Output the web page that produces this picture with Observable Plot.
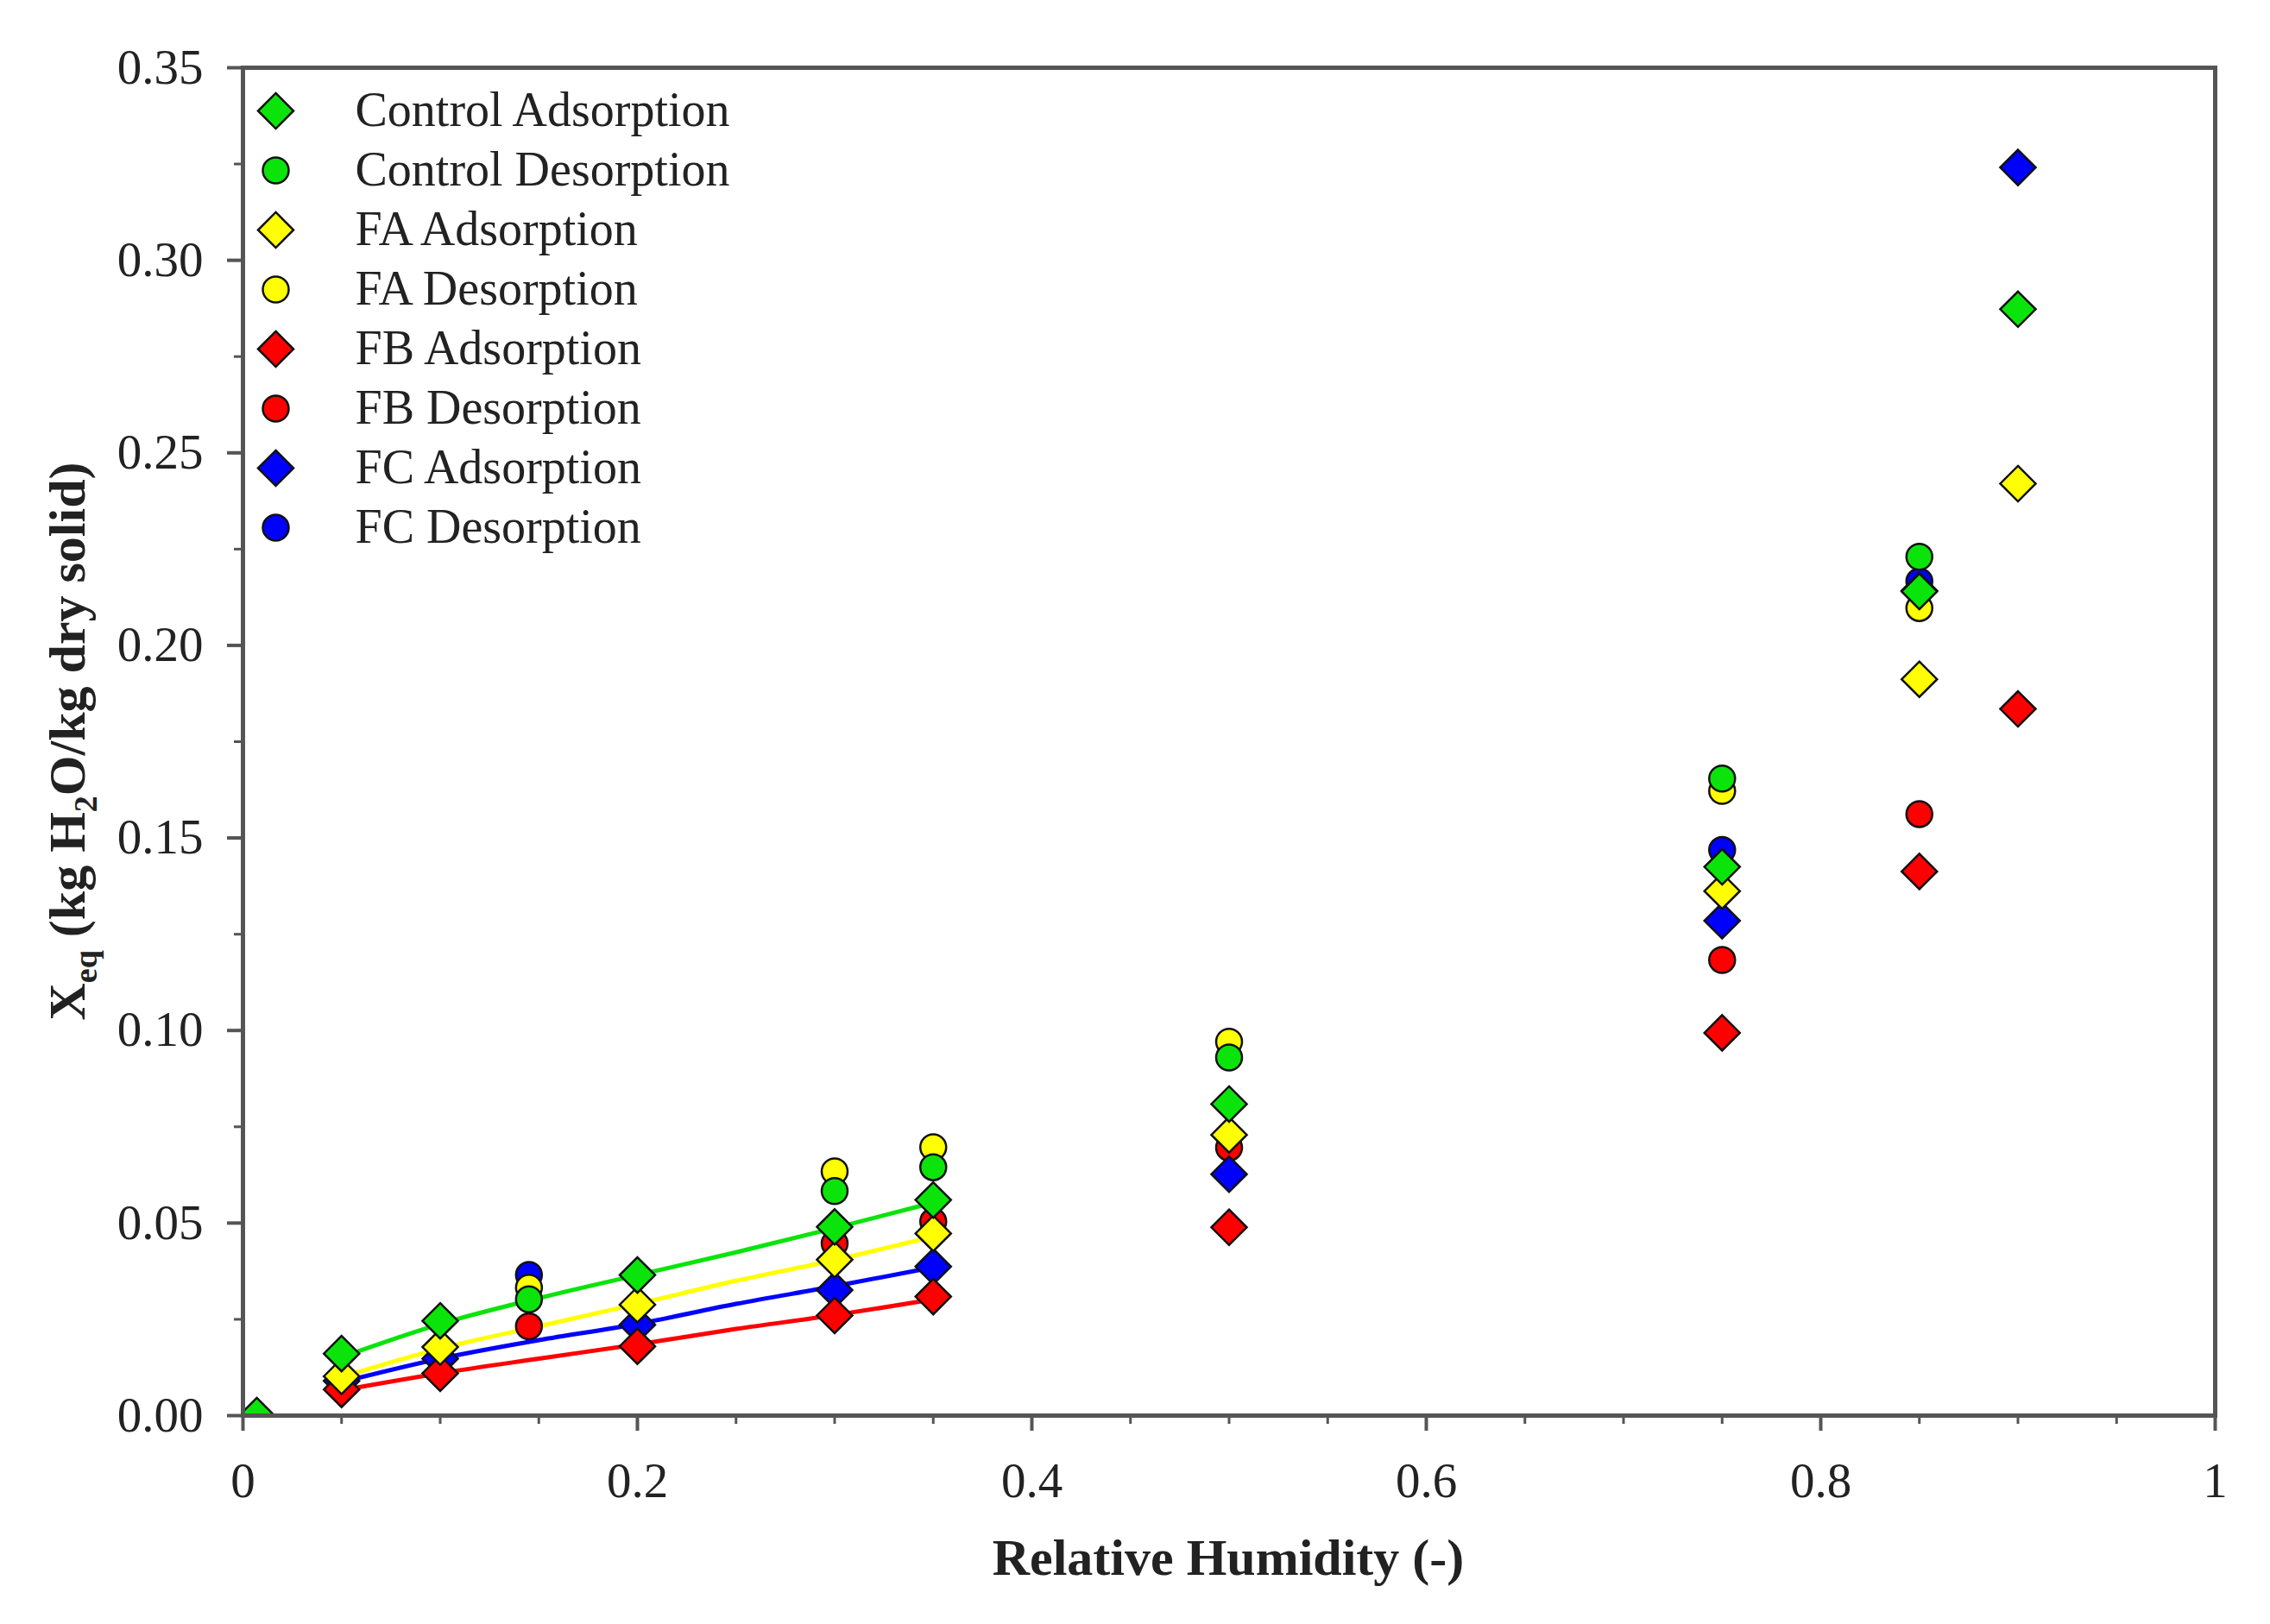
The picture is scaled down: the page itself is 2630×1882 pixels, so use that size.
<!DOCTYPE html>
<html>
<head>
<meta charset="utf-8">
<script src="https://cdn.jsdelivr.net/npm/d3@7"></script>
<script src="https://cdn.jsdelivr.net/npm/@observablehq/plot@0.6"></script>
<style>
  body { margin: 0; background: #fff; }
</style>
</head>
<body>
<div id="chart_1"></div>
<script>
// relative humidity levels
const rhAds = [0.05, 0.1, 0.2, 0.3, 0.35, 0.5, 0.75, 0.85, 0.9];
const rhControlAds = [0.007, 0.05, 0.1, 0.2, 0.3, 0.35, 0.5, 0.75, 0.85, 0.9];
const rhDes = [0.145, 0.3, 0.35, 0.5, 0.75, 0.85];
const rhFit = [0.05, 0.1, 0.15, 0.2, 0.25, 0.3, 0.35];

// measured Xeq (kg H2O/kg dry solid)
const controlAds = [0, 0.0161, 0.0246, 0.0365, 0.0490, 0.0560, 0.0809, 0.1425, 0.2140, 0.2873];
const faAds = [0.0102, 0.0178, 0.0288, 0.0405, 0.0473, 0.0729, 0.1362, 0.1912, 0.2420];
const fbAds = [0.0068, 0.0110, 0.0180, 0.0260, 0.0309, 0.0489, 0.0994, 0.1413, 0.1835];
const fcAds = [0.0090, 0.0148, 0.0236, 0.0326, 0.0387, 0.0627, 0.1285, 0.2142, 0.3241];

const controlDes = [0.0302, 0.0583, 0.0645, 0.0930, 0.1654, 0.2230];
const faDes = [0.0332, 0.0634, 0.0697, 0.0971, 0.1622, 0.2097];
const fbDes = [0.0232, 0.0447, 0.0504, 0.0696, 0.1183, 0.1562];
const fcDes = [0.0365, null, null, null, 0.1469, 0.2166];

// fitted curves (adsorption, low RH range)
const controlFit = [0.0152, 0.0238, 0.0305, 0.0365, 0.0424, 0.0487, 0.0553];
const faFit = [0.0100, 0.0174, 0.0232, 0.0290, 0.0350, 0.0404, 0.0465];
const fbFit = [0.0066, 0.0110, 0.0148, 0.0185, 0.0225, 0.0261, 0.0302];
const fcFit = [0.0087, 0.0148, 0.0196, 0.0238, 0.0290, 0.0336, 0.0385];

const xMajor = [0, 0.2, 0.4, 0.6, 0.8, 1];
const xMinor = d3.range(0, 1.0001, 0.05);
const yMajor = [0, 0.05, 0.1, 0.15, 0.2, 0.25, 0.3, 0.35];
const yMinor = d3.range(0, 0.3501, 0.025);

const green = "#0be40b", yellow = "#ffff00", red = "#ff0000", blue = "#0000ff";

const rows = (xs, ys) => xs.map((x, i) => ({x, y: ys[i]})).filter(d => d.y != null);

// drawing order: desorption circles first, then adsorption diamonds
const desSeries = [
  {name: "FC Desorption", color: blue, data: rows(rhDes, fcDes)},
  {name: "FB Desorption", color: red, data: rows(rhDes, fbDes)},
  {name: "FA Desorption", color: yellow, data: rows(rhDes, faDes)},
  {name: "Control Desorption", color: green, data: rows(rhDes, controlDes)},
];
const adsSeries = [
  {name: "FC Adsorption", color: blue, data: rows(rhAds, fcAds)},
  {name: "FB Adsorption", color: red, data: rows(rhAds, fbAds)},
  {name: "FA Adsorption", color: yellow, data: rows(rhAds, faAds)},
  {name: "Control Adsorption", color: green, data: rows(rhControlAds, controlAds)},
];
const fits = [
  {color: green, data: rows(rhFit, controlFit)},
  {color: yellow, data: rows(rhFit, faFit)},
  {color: blue, data: rows(rhFit, fcFit)},
  {color: red, data: rows(rhFit, fbFit)},
];

const legend = [
  {name: "Control Adsorption", color: green, symbol: "diamond2"},
  {name: "Control Desorption", color: green, symbol: "circle"},
  {name: "FA Adsorption", color: yellow, symbol: "diamond2"},
  {name: "FA Desorption", color: yellow, symbol: "circle"},
  {name: "FB Adsorption", color: red, symbol: "diamond2"},
  {name: "FB Desorption", color: red, symbol: "circle"},
  {name: "FC Adsorption", color: blue, symbol: "diamond2"},
  {name: "FC Desorption", color: blue, symbol: "circle"},
];

const dRad = 18.5, cRad = 15;
const font = "Liberation Serif";

let chart = Plot.plot({
  width: 2630,
  height: 1882,
  marginLeft: 281,
  marginRight: 64,
  marginTop: 78,
  marginBottom: 242,
  style: {fontFamily: font, background: "#fff"},
  x: {domain: [0, 1]},
  y: {domain: [0, 0.35]},
  marks: [
    Plot.axisX(xMinor, {tickSize: 10, stroke: "#555", strokeWidth: 3, text: null, label: null}),
    Plot.axisX(xMajor, {
      tickSize: 18, tickPadding: 36, stroke: "#555", strokeWidth: 4,
      fill: "#222", fontSize: 57, tickFormat: d3.format("~g"), label: null
    }),
    Plot.axisY(yMinor, {tickSize: 10, stroke: "#555", strokeWidth: 3, text: null, label: null}),
    Plot.axisY(yMajor, {
      tickSize: 18, tickPadding: 28, stroke: "#555", strokeWidth: 4,
      fill: "#222", fontSize: 57, tickFormat: d3.format(".2f"), label: null
    }),
    ...fits.map(s => Plot.line(s.data, {
      x: "x", y: "y", stroke: s.color, strokeWidth: 5, curve: "monotone-x"
    })),
    ...desSeries.map(s => Plot.dot(s.data, {
      x: "x", y: "y", symbol: "circle", r: cRad,
      fill: s.color, stroke: "#111", strokeWidth: 2.5
    })),
    ...adsSeries.map(s => Plot.dot(s.data, {
      x: "x", y: "y", symbol: "diamond2", r: dRad,
      fill: s.color, stroke: "#111", strokeWidth: 2.5, clip: true
    })),
    Plot.frame({stroke: "#555", strokeWidth: 5}),
    ...legend.map((s, i) => Plot.dot([s], {
      x: null, y: null, frameAnchor: "top-left", dx: 38, dy: 50 + i * 69,
      symbol: s.symbol, r: s.symbol === "circle" ? cRad : dRad,
      fill: s.color, stroke: "#111", strokeWidth: 2.5
    })),
    ...legend.map((s, i) => Plot.text([s], {
      x: null, y: null, frameAnchor: "top-left", dx: 130, dy: 50 + i * 69,
      text: d => d.name, textAnchor: "start", lineAnchor: "middle",
      fontSize: 56, fill: "#222"
    })),
  ]
});

const svg = d3.select(chart);

// axis titles (need subscripts, so added as svg text)
svg.append("text")
  .attr("x", 1423).attr("y", 1825)
  .attr("text-anchor", "middle")
  .attr("font-family", font).attr("font-weight", "bold").attr("font-size", 60)
  .attr("fill", "#222")
  .text("Relative Humidity (-)");

const yl = svg.append("text")
  .attr("transform", "translate(98,859) rotate(-90)")
  .attr("text-anchor", "middle")
  .attr("font-family", font).attr("font-weight", "bold").attr("font-size", 60)
  .attr("fill", "#222");
yl.append("tspan").text("X");
yl.append("tspan").attr("font-size", 38).attr("dy", 14).text("eq");
yl.append("tspan").attr("dy", -14).text(" (kg H");
yl.append("tspan").attr("font-size", 38).attr("dy", 14).text("2");
yl.append("tspan").attr("dy", -14).text("O/kg dry solid)");

d3.select('#chart_1').append(() => chart);
</script>
</body>
</html>
